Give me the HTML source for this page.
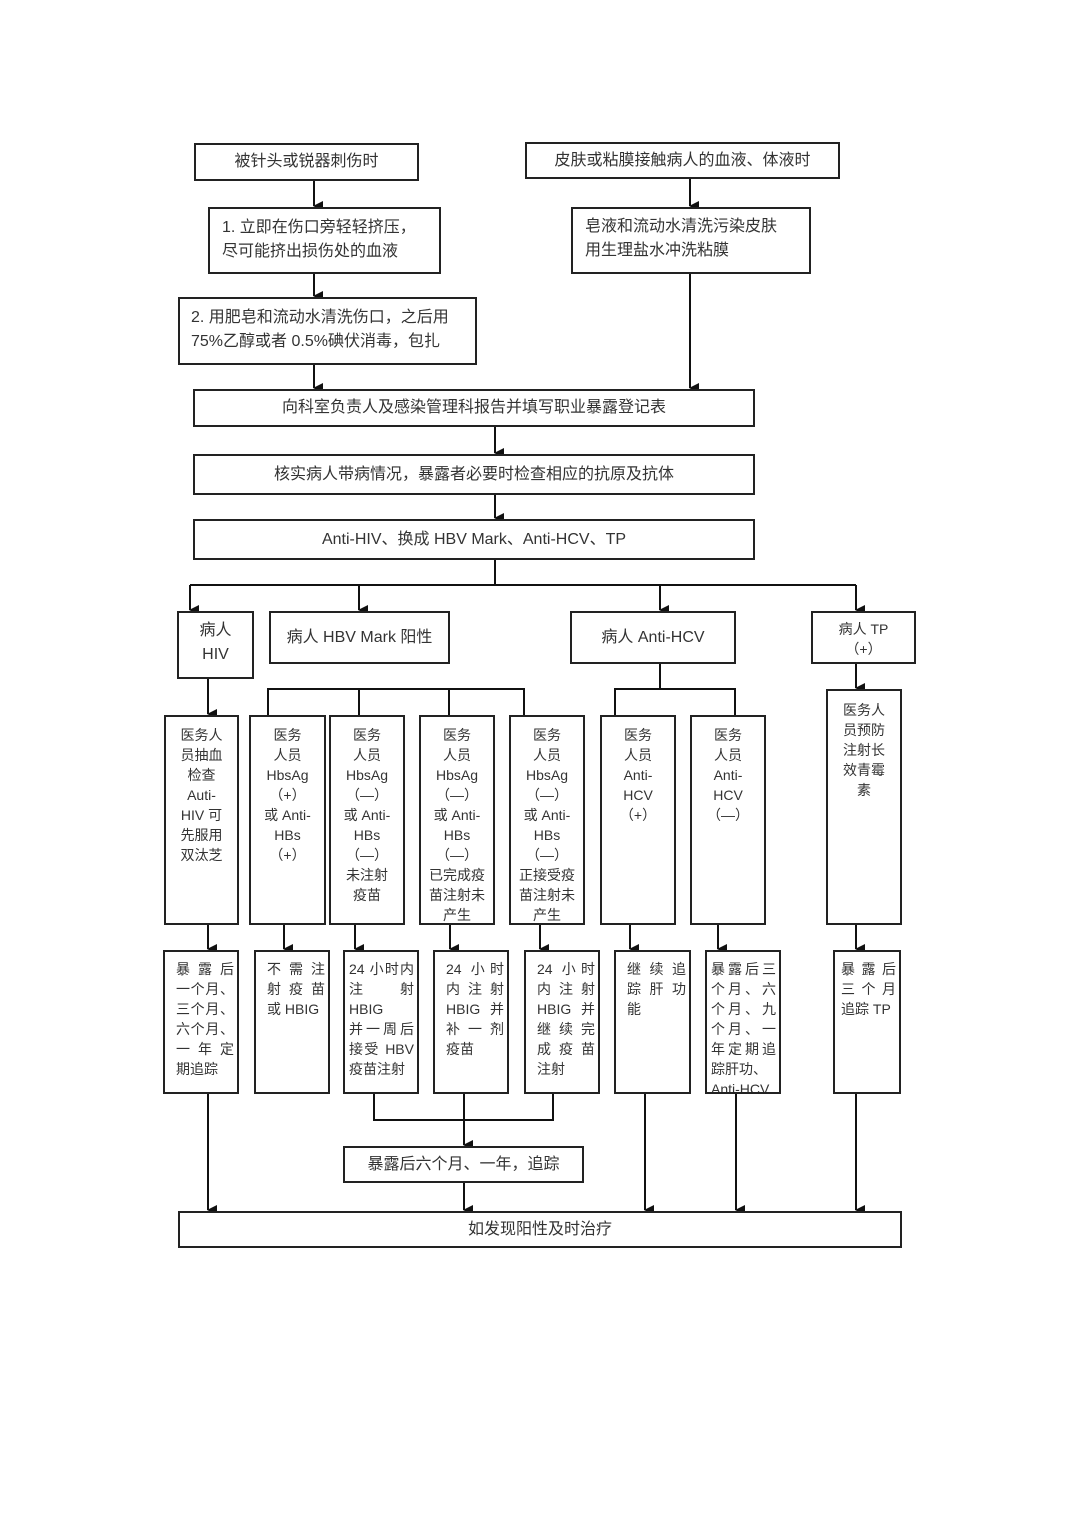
<!DOCTYPE html>
<html><head><meta charset="utf-8"><style>
body{margin:0;background:#fff;width:1080px;height:1527px;position:relative;overflow:hidden;font-family:"Liberation Sans","Noto Sans CJK SC",sans-serif;color:#333}
.b{position:absolute;box-sizing:border-box;border:2px solid #222;background:#fff;overflow:hidden}
.c{display:flex;align-items:center;justify-content:center;text-align:center;font-size:16px;line-height:24px}
.t{text-align:center;font-size:14px;line-height:20px;padding-top:8px}
.l{text-align:justify;text-align-last:justify;font-size:14px;line-height:20px;padding:7px 3px 0 11px}
.l span{display:block}
svg{position:absolute;left:0;top:0}
</style></head><body>
<svg width="1080" height="1527" viewBox="0 0 1080 1527">
<defs><marker id="a" markerWidth="10" markerHeight="10" refX="5" refY="9" orient="auto" markerUnits="userSpaceOnUse"><path d="M0,0 L10,0 L5,10z" fill="#111"/></marker></defs>
<g stroke="#111" stroke-width="2" fill="none">
<line x1="314" y1="180" x2="314" y2="206" marker-end="url(#a)"/>
<line x1="690" y1="178" x2="690" y2="206" marker-end="url(#a)"/>
<line x1="314" y1="273" x2="314" y2="296" marker-end="url(#a)"/>
<line x1="314" y1="364" x2="314" y2="388" marker-end="url(#a)"/>
<line x1="690" y1="273" x2="690" y2="388" marker-end="url(#a)"/>
<line x1="495" y1="426" x2="495" y2="453" marker-end="url(#a)"/>
<line x1="495" y1="494" x2="495" y2="518" marker-end="url(#a)"/>
<line x1="495" y1="559" x2="495" y2="585"/>
<line x1="190" y1="585" x2="856" y2="585"/>
<line x1="190" y1="585" x2="190" y2="610" marker-end="url(#a)"/>
<line x1="359" y1="585" x2="359" y2="610" marker-end="url(#a)"/>
<line x1="660" y1="585" x2="660" y2="610" marker-end="url(#a)"/>
<line x1="856" y1="585" x2="856" y2="610" marker-end="url(#a)"/>
<line x1="208" y1="678" x2="208" y2="714" marker-end="url(#a)"/>
<polyline points="268,715 268,689 524,689 524,715"/>
<line x1="359" y1="689" x2="359" y2="715"/>
<line x1="449" y1="689" x2="449" y2="715"/>
<line x1="660" y1="663" x2="660" y2="689"/>
<polyline points="615,715 615,689 735,689 735,715"/>
<line x1="856" y1="663" x2="856" y2="688" marker-end="url(#a)"/>
<line x1="208" y1="924" x2="208" y2="949" marker-end="url(#a)"/>
<line x1="284" y1="924" x2="284" y2="949" marker-end="url(#a)"/>
<line x1="355" y1="924" x2="355" y2="949" marker-end="url(#a)"/>
<line x1="450" y1="924" x2="450" y2="949" marker-end="url(#a)"/>
<line x1="540" y1="924" x2="540" y2="949" marker-end="url(#a)"/>
<line x1="630" y1="924" x2="630" y2="949" marker-end="url(#a)"/>
<line x1="718" y1="924" x2="718" y2="949" marker-end="url(#a)"/>
<line x1="856" y1="924" x2="856" y2="949" marker-end="url(#a)"/>
<polyline points="374,1093 374,1120 553,1120 553,1093"/>
<line x1="464" y1="1093" x2="464" y2="1145" marker-end="url(#a)"/>
<line x1="464" y1="1182" x2="464" y2="1210" marker-end="url(#a)"/>
<line x1="208" y1="1093" x2="208" y2="1210" marker-end="url(#a)"/>
<line x1="645" y1="1093" x2="645" y2="1210" marker-end="url(#a)"/>
<line x1="736" y1="1093" x2="736" y2="1210" marker-end="url(#a)"/>
<line x1="856" y1="1093" x2="856" y2="1210" marker-end="url(#a)"/>
</g></svg>

<div class="b c" style="left:194px;top:143px;width:225px;height:38px">被针头或锐器刺伤时</div>
<div class="b c" style="left:525px;top:142px;width:315px;height:37px">皮肤或粘膜接触病人的血液、体液时</div>
<div class="b" style="left:208px;top:207px;width:233px;height:67px;font-size:16px;line-height:24px;padding:7px 0 0 12px">1. 立即在伤口旁轻轻挤压，<br>尽可能挤出损伤处的血液</div>
<div class="b" style="left:571px;top:207px;width:240px;height:67px;font-size:16px;line-height:24px;padding:6px 0 0 12px">皂液和流动水清洗污染皮肤<br>用生理盐水冲洗粘膜</div>
<div class="b" style="left:178px;top:297px;width:299px;height:68px;font-size:16px;line-height:24px;padding:7px 0 0 11px;white-space:nowrap">2. 用肥皂和流动水清洗伤口，之后用<br>75%乙醇或者 0.5%碘伏消毒，包扎</div>
<div class="b c" style="left:193px;top:389px;width:562px;height:38px">向科室负责人及感染管理科报告并填写职业暴露登记表</div>
<div class="b c" style="left:193px;top:454px;width:562px;height:41px">核实病人带病情况，暴露者必要时检查相应的抗原及抗体</div>
<div class="b c" style="left:193px;top:519px;width:562px;height:41px">Anti-HIV、换成 HBV Mark、Anti-HCV、TP</div>

<div class="b" style="left:177px;top:611px;width:77px;height:68px;font-size:16px;line-height:24px;text-align:center;padding-top:6px">病人<br>HIV</div>
<div class="b c" style="left:269px;top:611px;width:181px;height:53px">病人 HBV Mark 阳性</div>
<div class="b c" style="left:570px;top:611px;width:166px;height:53px">病人 Anti-HCV</div>
<div class="b" style="left:811px;top:611px;width:105px;height:53px;font-size:14px;line-height:20px;text-align:center;padding-top:6px">病人 TP<br>（+）</div>

<div class="b t" style="left:164px;top:715px;width:75px;height:210px">医务人<br>员抽血<br>检查<br>Auti-<br>HIV 可<br>先服用<br>双汰芝</div>
<div class="b t" style="left:249px;top:715px;width:77px;height:210px">医务<br>人员<br>HbsAg<br>（+）<br>或 Anti-<br>HBs<br>（+）</div>
<div class="b t" style="left:329px;top:715px;width:76px;height:210px">医务<br>人员<br>HbsAg<br>（—）<br>或 Anti-<br>HBs<br>（—）<br>未注射<br>疫苗</div>
<div class="b t" style="left:419px;top:715px;width:76px;height:210px">医务<br>人员<br>HbsAg<br>（—）<br>或 Anti-<br>HBs<br>（—）<br>已完成疫<br>苗注射未<br>产生</div>
<div class="b t" style="left:509px;top:715px;width:76px;height:210px">医务<br>人员<br>HbsAg<br>（—）<br>或 Anti-<br>HBs<br>（—）<br>正接受疫<br>苗注射未<br>产生</div>
<div class="b t" style="left:600px;top:715px;width:76px;height:210px">医务<br>人员<br>Anti-<br>HCV<br>（+）</div>
<div class="b t" style="left:690px;top:715px;width:76px;height:210px">医务<br>人员<br>Anti-<br>HCV<br>（—）</div>
<div class="b t" style="left:826px;top:689px;width:76px;height:236px;padding-top:9px">医务人<br>员预防<br>注射长<br>效青霉<br>素</div>

<div class="b l" style="left:163px;top:950px;width:76px;height:144px"><span>暴露后</span><span>一个月、</span><span>三个月、</span><span>六个月、</span><span>一年定</span><span style="text-align-last:left">期追踪</span></div>
<div class="b l" style="left:254px;top:950px;width:76px;height:144px"><span>不需注</span><span>射疫苗</span><span style="text-align-last:left">或 HBIG</span></div>
<div class="b l" style="left:343px;top:950px;width:76px;height:144px;padding-left:4px"><span>24 小时内</span><span>注射 HBIG</span><span>并一周后</span><span>接受 HBV</span><span style="text-align-last:left">疫苗注射</span></div>
<div class="b l" style="left:433px;top:950px;width:76px;height:144px"><span>24 小时</span><span>内注射</span><span>HBIG 并</span><span>补一剂</span><span style="text-align-last:left">疫苗</span></div>
<div class="b l" style="left:524px;top:950px;width:76px;height:144px"><span>24 小时</span><span>内注射</span><span>HBIG 并</span><span>继续完</span><span>成疫苗</span><span style="text-align-last:left">注射</span></div>
<div class="b l" style="left:614px;top:950px;width:77px;height:144px"><span>继续追</span><span>踪肝功</span><span style="text-align-last:left">能</span></div>
<div class="b l" style="left:705px;top:950px;width:76px;height:144px;padding-left:4px"><span>暴露后三</span><span>个月、六</span><span>个月、九</span><span>个月、一</span><span>年定期追</span><span style="text-align-last:left">踪肝功、</span><span style="text-align-last:left">Anti-HCV</span></div>
<div class="b l" style="left:833px;top:950px;width:68px;height:144px;padding-left:6px"><span>暴露后</span><span>三个月</span><span style="text-align-last:left">追踪 TP</span></div>

<div class="b c" style="left:343px;top:1146px;width:241px;height:37px">暴露后六个月、一年，追踪</div>
<div class="b c" style="left:178px;top:1211px;width:724px;height:37px">如发现阳性及时治疗</div>
</body></html>
